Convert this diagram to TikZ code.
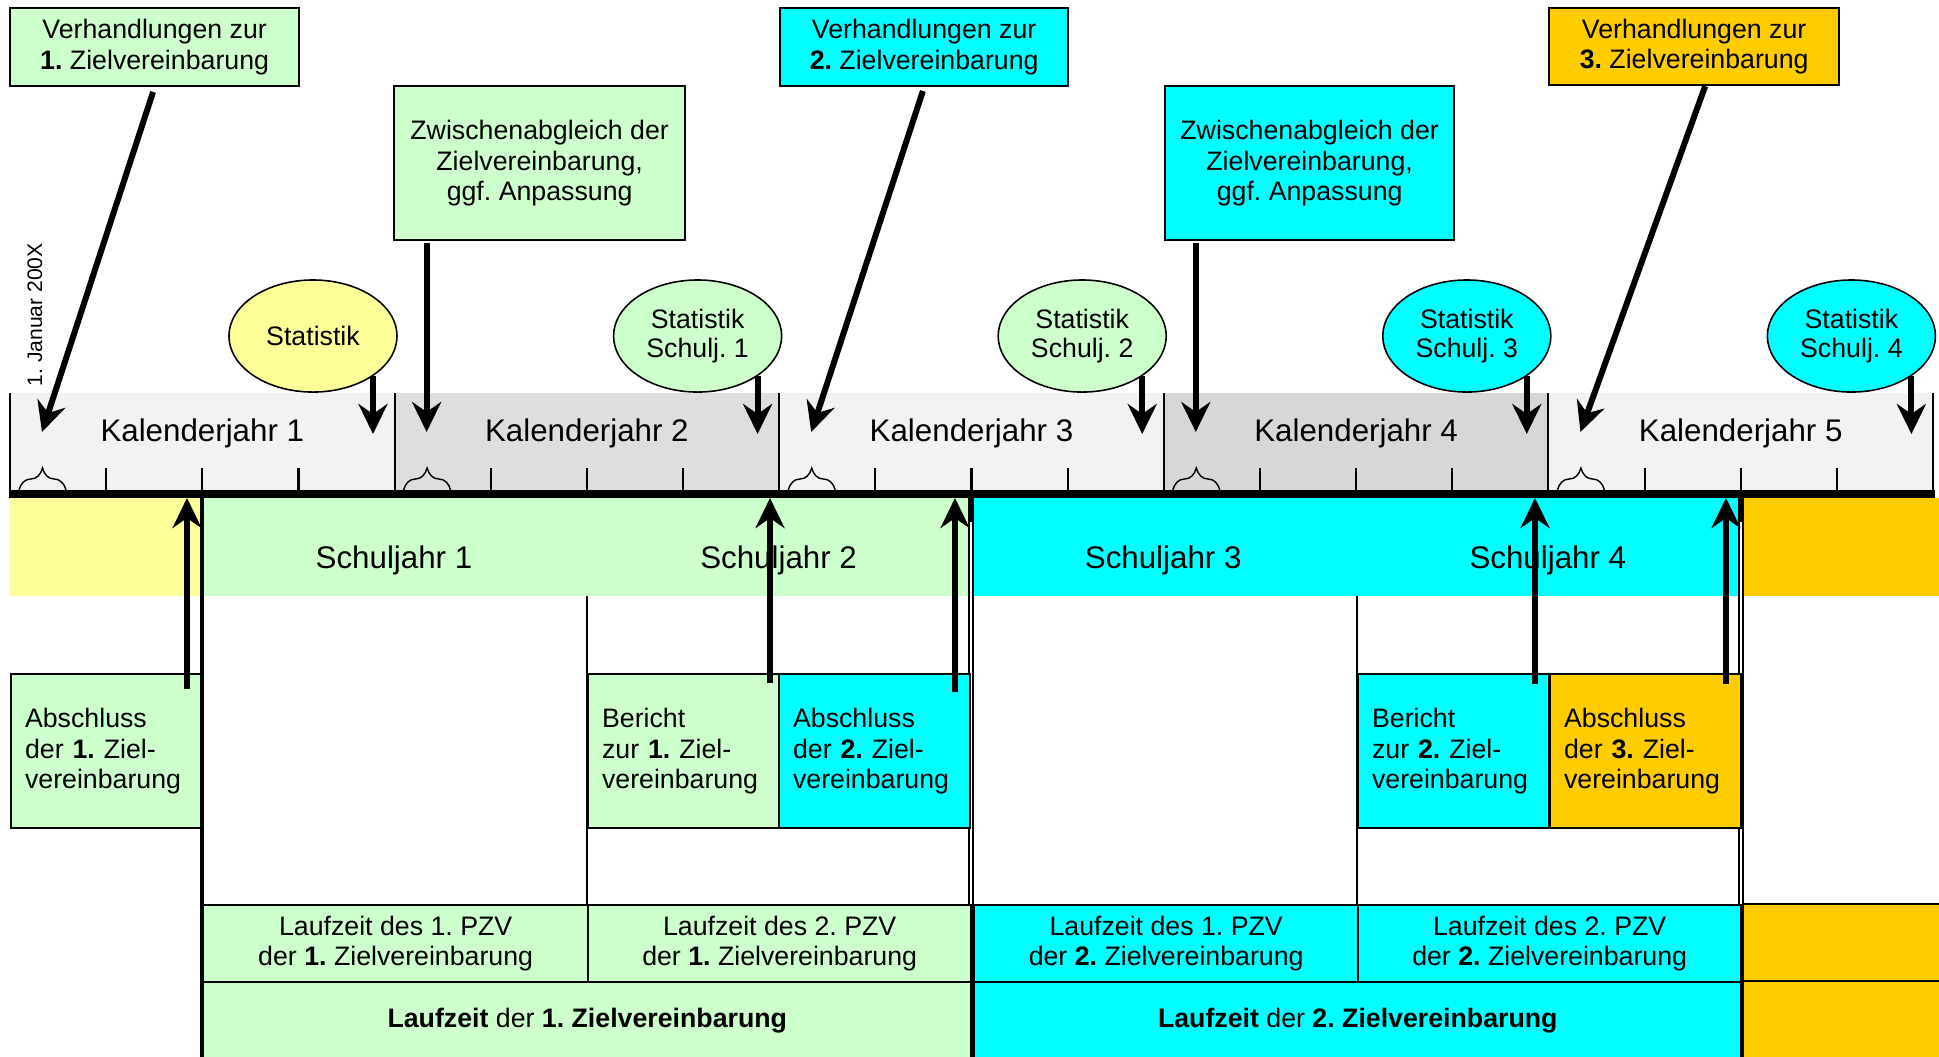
\documentclass[tikz,border=0pt]{standalone}
\usepackage{fontspec}
\setmainfont{Liberation Sans}
\usetikzlibrary{arrows.meta,calc,decorations.pathreplacing,shapes.geometric}
\frenchspacing

\definecolor{zvgreen}{HTML}{CCFFCC}
\definecolor{zvcyan}{HTML}{00FFFF}
\definecolor{zvorange}{HTML}{FFCC00}
\definecolor{zvyellow}{HTML}{FFFF99}
\definecolor{kjlight}{HTML}{F2F2F2}
\definecolor{kjdark}{HTML}{DEDEDE}
\definecolor{kjdarker}{HTML}{D7D7D7}

\tikzset{
  box/.style={draw, line width=0.6pt, inner sep=0pt, align=center, anchor=north west,
    font=\fontsize{7.6}{8.8}\selectfont},
  leftbox/.style={box, align=left, inner xsep=0.14cm, text width=1.63cm, minimum height=1.54cm},
  bubble/.style={ellipse, draw, line width=0.45pt, inner sep=0pt, minimum width=1.68cm,
    minimum height=1.12cm, align=center, font=\fontsize{7.6}{8.2}\selectfont},
  bigtext/.style={font=\fontsize{8.9}{10.7}\selectfont},
  arr/.style={line width=1.7pt, -{Stealth[length=0.3cm,width=0.29cm,inset=0.1cm]}},
  rule/.style={line width=0.6pt},
}

\begin{document}
\begin{tikzpicture}[x=0.01cm, y=-0.01cm]
\useasboundingbox (0,0) rectangle (1939,1056);
\clip (0,0) rectangle (1939,1056);

% Kalenderjahre
\foreach \k/\c in {1/kjlight,2/kjdark,3/kjlight,4/kjdarker,5/kjlight}{
	\pgfmathsetmacro\xa{10+384.6*(\k-1)}
	\fill[\c] (\xa,393) rectangle ++(384.6,101);
	\node[bigtext] (kj\k) at (\xa+192.3,433) {Kalenderjahr \k};
	\foreach \i in {1,2,3}
		\draw[rule] (\xa+96.15*\i,468) -- ++(0,54);
	\draw[line width=0.4pt, decorate, decoration={brace,amplitude=0.22cm}] (\xa+9,490) -- (\xa+56,490);
	\coordinate (start\k) at (\xa+32,432);
	}
\foreach \k in {0,...,5}
	\draw[rule] (10+384.6*\k,393) -- ++(0,129);
\coordinate (tips) at (0,434);

\node[rotate=90, anchor=base west, inner sep=0pt, font=\fontsize{6}{7}\selectfont] (jan) at (42,387) {1. Januar 200X};

% Schuljahre
\fill[zvyellow] (9,498) rectangle (200,596);
\fill[zvgreen] (203,498) rectangle (969,596);
\fill[zvcyan] (973,498) rectangle (1739,596);
\fill[zvorange] (1743,498) rectangle (1940,596);
\foreach \k in {1,...,4}
	\node[bigtext] (sj\k) at ({394+384.6*(\k-1)},560) {Schuljahr \k};

\draw[rule] (587,596) -- (587,904);
\draw[rule] (1357,596) -- (1357,904);
\draw[rule] (969,496) -- (969,1060);
\draw[rule] (973,496) -- (973,1060);
\draw[rule] (1739,496) -- (1739,1060);
\draw[rule] (1743,496) -- (1743,1060);

% Abschluss und Bericht
\node[leftbox, fill=zvgreen] (a1) at (10,673) {Abschluss\\der \textbf{1.} Ziel-\\vereinbarung};
\node[leftbox, fill=zvgreen] (b1) at (587,673) {Bericht\\zur \textbf{1.} Ziel-\\vereinbarung};
\node[leftbox, fill=zvcyan] (a2) at (778,673) {Abschluss\\der \textbf{2.} Ziel-\\vereinbarung};
\node[leftbox, fill=zvcyan] (b2) at (1357,673) {Bericht\\zur \textbf{2.} Ziel-\\vereinbarung};
\node[leftbox, fill=zvorange] (a3) at (1549,673) {Abschluss\\der \textbf{3.} Ziel-\\vereinbarung};

% Laufzeiten
\node[box, fill=zvgreen, minimum width=3.85cm, minimum height=0.77cm] (lz11) at (202,904) {Laufzeit des 1. PZV\\der \textbf{1.} Zielvereinbarung};
\node[box, fill=zvgreen, minimum width=3.83cm, minimum height=0.77cm] (lz12) at (587,904) {Laufzeit des 2. PZV\\der \textbf{1.} Zielvereinbarung};
\node[box, fill=zvcyan, minimum width=3.84cm, minimum height=0.77cm] (lz21) at (973,904) {Laufzeit des 1. PZV\\der \textbf{2.} Zielvereinbarung};
\node[box, fill=zvcyan, minimum width=3.83cm, minimum height=0.77cm] (lz22) at (1357,904) {Laufzeit des 2. PZV\\der \textbf{2.} Zielvereinbarung};
\node[box, fill=zvgreen, minimum width=7.68cm, minimum height=0.77cm] (lz1) at (202,981) {\textbf{Laufzeit} der \textbf{1. Zielvereinbarung}};
\node[box, fill=zvcyan, minimum width=7.67cm, minimum height=0.77cm] (lz2) at (973,981) {\textbf{Laufzeit} der \textbf{2. Zielvereinbarung}};
\draw[rule, fill=zvorange] (1743,904) rectangle (1950,981);
\draw[rule, fill=zvorange] (1743,981) rectangle (1950,1060);
\draw[line width=1pt] (202,496) -- (202,1060);

% Verhandlungen und Zwischenabgleich
\node[box, fill=zvgreen, minimum width=2.89cm, minimum height=0.78cm] (v1) at (9,7) {Verhandlungen zur\\\textbf{1.} Zielvereinbarung};
\node[box, fill=zvcyan, minimum width=2.88cm, minimum height=0.78cm] (v2) at (779,7) {Verhandlungen zur\\\textbf{2.} Zielvereinbarung};
\node[box, fill=zvorange, minimum width=2.90cm, minimum height=0.77cm] (v3) at (1548,7) {Verhandlungen zur\\\textbf{3.} Zielvereinbarung};
\node[box, fill=zvgreen, minimum width=2.91cm, minimum height=1.54cm] (z1) at (393,85) {Zwischenabgleich der\\Zielvereinbarung,\\ggf. Anpassung};
\node[box, fill=zvcyan, minimum width=2.89cm, minimum height=1.54cm] (z2) at (1164,85) {Zwischenabgleich der\\Zielvereinbarung,\\ggf. Anpassung};

\draw[arr, shorten <=0.05cm] (v1.south) -- (start1);
\draw[arr, shorten <=0.04cm] (v2.south) -- (start3);
\draw[arr] ([xshift=0.11cm]v3.south) -- (start5);
\draw[arr, shorten <=0.02cm] (z1.south west -| start2) -- (start2);
\draw[arr, shorten <=0.02cm] (z2.south west -| start4) -- (start4);

% Statistik
\foreach \k/\c/\txt in {1/zvyellow/Statistik, 2/zvgreen/{Statistik\\Schulj. 1},
	3/zvgreen/{Statistik\\Schulj. 2}, 4/zvcyan/{Statistik\\Schulj. 3}, 5/zvcyan/{Statistik\\Schulj. 4}}{
	\pgfmathsetmacro\xa{10+384.6*(\k-1)}
	\node[bubble, fill=\c] (st\k) at (\xa+303,336) {\txt};
	\draw[arr] (st\k.south east) -- (st\k.south east |- tips);
	}

% Pfeile zur Zeitachse
\coordinate (up1) at (187,498);
\coordinate (up2) at (770,498);
\coordinate (up3) at (955,498);
\coordinate (up4) at (1535,498);
\coordinate (up5) at (1726,498);
\draw[arr] ($(up1 |- a1.north)+(0,16)$) -- (up1);
\draw[arr] ($(up2 |- b1.north)+(0,10)$) -- (up2);
\draw[arr] ($(up3 |- a2.north)+(0,19)$) -- (up3);
\draw[arr] ($(up4 |- b2.north)+(0,11)$) -- (up4);
\draw[arr] ($(up5 |- a3.north)+(0,11)$) -- (up5);

\draw[line width=2.3pt] (10,494) -- (1935,494);
\end{tikzpicture}
\end{document}
